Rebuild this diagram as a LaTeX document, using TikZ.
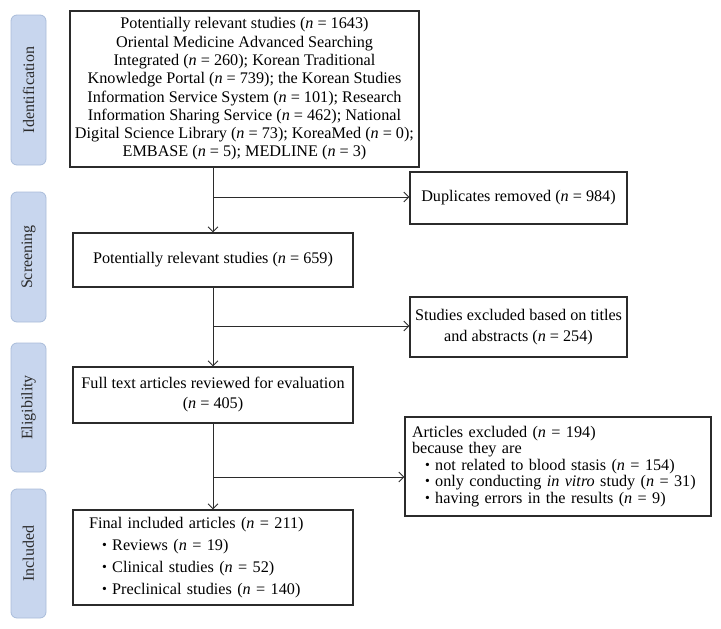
\documentclass[tikz,border=0pt]{standalone}
\usepackage{fontspec}
\setmainfont{Liberation Serif}
\usetikzlibrary{arrows.meta}
\definecolor{sidefill}{HTML}{C8D6EE}
\definecolor{sideedge}{HTML}{A9BCDA}
\definecolor{ink}{HTML}{2B2B2B}
\newcommand{\bul}{\hspace*{13pt}\raisebox{1.2pt}{\scalebox{0.85}{\textbullet}}\ }
\newcommand{\nn}{\textit{n}}
\begin{document}
\begin{tikzpicture}[x=1pt,y=-1pt,
  box/.style={draw=ink, line width=1.1pt, inner sep=0pt, text=black,
    font=\fontsize{16.2}{18.3}\selectfont, align=center},
  sidebox/.style={draw=sideedge, fill=sidefill, rounded corners=6pt, line width=0.8pt,
    minimum height=35pt, inner sep=0pt, rotate=90, text=ink,
    font=\fontsize{16}{18}\selectfont},
  conn/.style={draw=ink, line width=0.9pt, -{Straight Barb[length=5pt,width=10pt]}},
  trunk/.style={draw=ink, line width=0.9pt}]
\useasboundingbox (0,0) rectangle (721,629);

% side labels
\node[sidebox, minimum width=150pt] (sId) at (28.5,90) {Identification};
\node[sidebox, minimum width=130pt] (sSc) at (28.5,257) {Screening};
\node[sidebox, minimum width=129pt] (sEl) at (28.5,407.5) {Eligibility};
\node[sidebox, minimum width=129pt] (sIn) at (28.5,553.5) {Included};

% main boxes
\node[box, minimum width=349pt, minimum height=156pt] (b1) at (244.5,89)
  {Potentially relevant studies (\nn{} = 1643)\\
   Oriental Medicine Advanced Searching\\
   Integrated (\nn{} = 260); Korean Traditional\\
   Knowledge Portal (\nn{} = 739); the Korean Studies\\
   Information Service System (\nn{} = 101); Research\\
   Information Sharing Service (\nn{} = 462); National\\
   Digital Science Library (\nn{} = 73); KoreaMed (\nn{} = 0);\\
   EMBASE (\nn{} = 5); MEDLINE (\nn{} = 3)};

\node[box, minimum width=217pt, minimum height=52pt] (dup) at (518.5,198)
  {Duplicates removed (\nn{} = 984)};

\node[box, minimum width=280pt, minimum height=54pt] (b2) at (213,260)
  {Potentially relevant studies (\nn{} = 659)};

\node[box, minimum width=217pt, minimum height=60pt,
  font=\fontsize{16.2}{21}\selectfont] (ex1) at (518.5,327)
  {Studies excluded based on titles\\ and abstracts (\nn{} = 254)};

\node[box, minimum width=280pt, minimum height=56pt,
  font=\fontsize{16.2}{20}\selectfont] (b3) at (213,395)
  {Full text articles reviewed for evaluation\\ (\nn{} = 405)};

\node[box, minimum width=306pt, minimum height=99pt, inner xsep=7pt,
  text width=292pt, align=left, font=\fontsize{16.2}{16.5}\selectfont] (ex2) at (558,466.5)
  {Articles excluded (\nn{} = 194)\\
   because they are\\
   \bul not related to blood stasis (\nn{} = 154)\\
   \bul only conducting \textit{in vitro} study (\nn{} = 31)\\
   \bul having errors in the results (\nn{} = 9)};

\node[box, minimum width=280pt, minimum height=95pt, inner xsep=16pt,
  text width=248pt, align=left, font=\fontsize{16.2}{22}\selectfont] (b4) at (213,557.5)
  {Final included articles (\nn{} = 211)\\
   \bul Reviews (\nn{} = 19)\\
   \bul Clinical studies (\nn{} = 52)\\
   \bul Preclinical studies (\nn{} = 140)};

% junctions
\coordinate (j1) at (213,197);
\coordinate (j2) at (213,326);
\coordinate (j3) at (213,477);

% connectors
\draw[conn] (b1.south -| b2.north) -- (b2.north);
\draw[conn] (b2.south) -- (b3.north);
\draw[conn] (b3.south) -- (b4.north);
\draw[conn] (j1) -- (j1 -| dup.west);
\draw[conn] (j2) -- (j2 -| ex1.west);
\draw[conn] (j3) -- (j3 -| ex2.west);
\end{tikzpicture}
\end{document}
